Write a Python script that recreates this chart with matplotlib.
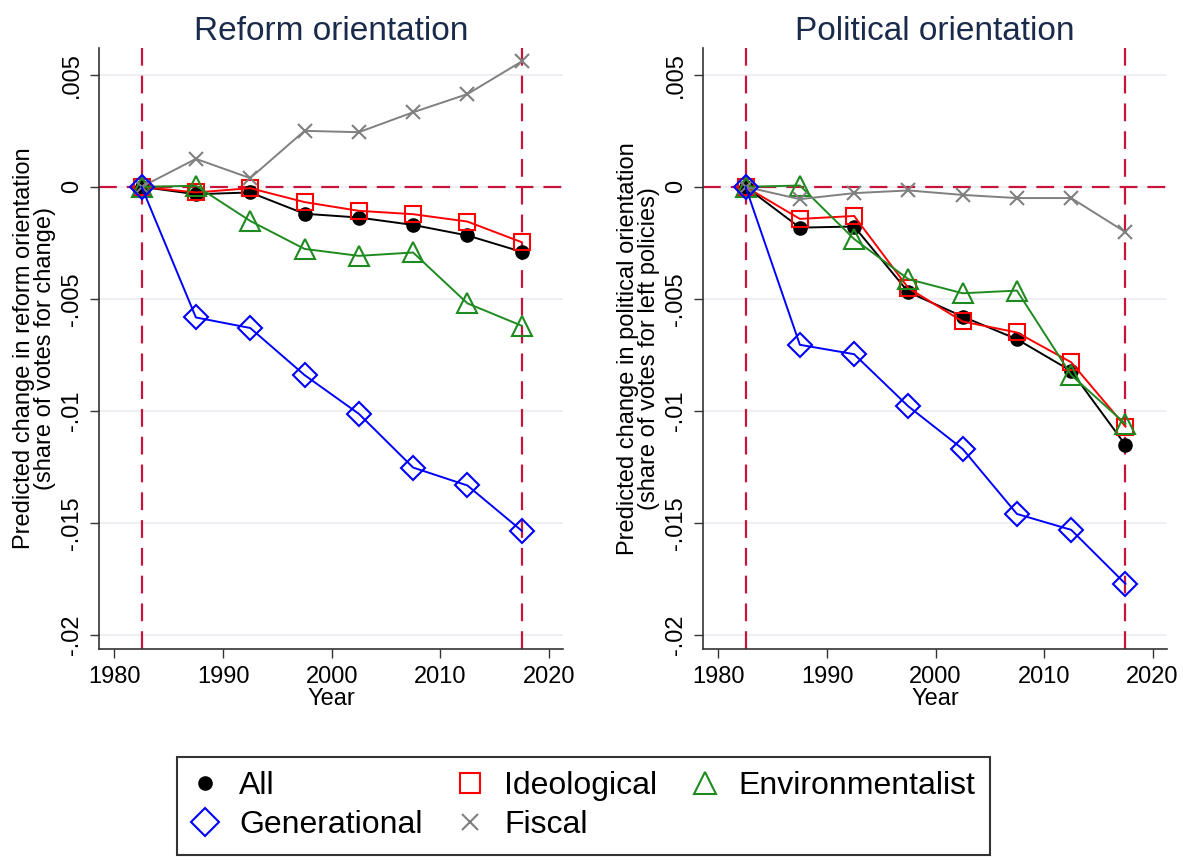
import matplotlib
matplotlib.use("Agg")
import matplotlib.pyplot as plt
from matplotlib.lines import Line2D

plt.rcParams['font.family'] = ['Liberation Sans', 'DejaVu Sans']

years = [1982.5, 1987.5, 1992.5, 1997.5, 2002.5, 2007.5, 2012.5, 2017.5]

# Reform orientation (share of votes for change)
reform_all = [0, -0.00033, -0.00025, -0.0012, -0.00137, -0.0017, -0.00217, -0.0029]
reform_ideological = [0, -0.00025, -0.00006, -0.00068, -0.00107, -0.00122, -0.00155, -0.00247]
reform_environmentalist = [0, 0.00005, -0.00152, -0.00277, -0.00308, -0.00293, -0.0052, -0.0062]
reform_generational = [0, -0.00583, -0.0063, -0.0084, -0.01013, -0.01253, -0.01333, -0.01535]
reform_fiscal = [0, 0.00125, 0.00039, 0.0025, 0.00244, 0.00333, 0.00414, 0.0056]

# Political orientation (share of votes for left policies)
political_all = [0, -0.00182, -0.00177, -0.0047, -0.00579, -0.0068, -0.00822, -0.01152]
political_ideological = [0, -0.00143, -0.0013, -0.00452, -0.00601, -0.0065, -0.00783, -0.0107]
political_environmentalist = [0, 0.00006, -0.00233, -0.00412, -0.00475, -0.00463, -0.0084, -0.01058]
political_generational = [0, -0.00705, -0.00747, -0.0098, -0.0117, -0.0146, -0.01531, -0.01772]
political_fiscal = [0, -0.00055, -0.00028, -0.00016, -0.00036, -0.0005, -0.0005, -0.00202]

yticks = [0.005, 0, -0.005, -0.01, -0.015, -0.02]
ytick_labels = ['.005', '0', '-.005', '-.01', '-.015', '-.02']
xticks = [1980, 1990, 2000, 2010, 2020]

ref_years = [1982.5, 2017.5]

styles = {
    'All': dict(color='black', marker='o', ms=9, mfc='black'),
    'Ideological': dict(color='#ff0000', marker='s', ms=12, mfc='none'),
    'Environmentalist': dict(color='#1f8a1f', marker='^', ms=14, mfc='none'),
    'Generational': dict(color='#0000ff', marker='D', ms=12, mfc='none'),
    'Fiscal': dict(color='#808080', marker='x', ms=9.5, mfc='none'),
}

ref_color = '#c8143c'
grid_color = '#e9eef4'
spine_color = '#333333'


def draw_panel(ax, series, title, ylabel):
    for yt in yticks:
        ax.axhline(yt, color=grid_color, lw=1.2, zorder=0)
    ax.axhline(0, color=ref_color, lw=1.6, dashes=(8, 4.5), zorder=1)
    for ry in ref_years:
        ax.axvline(ry, color=ref_color, lw=1.6, dashes=(8, 4.5), zorder=1)
    for name in ['All', 'Ideological', 'Environmentalist', 'Fiscal', 'Generational']:
        st = styles[name]
        ax.plot(years, series[name], color=st['color'], lw=1.4, marker=st['marker'],
                ms=st['ms'], mfc=st['mfc'], mec=st['color'], mew=1.5, zorder=3)

    ax.set_xlim(1978.6, 2021.3)
    ax.set_ylim(-0.02063, 0.0062)
    ax.set_xticks(xticks)
    ax.set_yticks(yticks)
    ax.set_yticklabels(ytick_labels)
    ax.tick_params(axis='y', labelrotation=90, length=6.5, width=1, pad=5, labelsize=17,
                   color=spine_color)
    ax.tick_params(axis='x', length=6.5, width=1, pad=6, labelsize=17, color=spine_color)
    for lab in ax.get_yticklabels():
        lab.set_verticalalignment('center')
    for s in ['top', 'right']:
        ax.spines[s].set_visible(False)
    for s in ['left', 'bottom']:
        ax.spines[s].set_color(spine_color)
        ax.spines[s].set_linewidth(1.2)

    ax.set_title(title, fontsize=24, color='#1a2a4a', pad=6)
    ax.set_xlabel('Year', fontsize=17, labelpad=0)
    ax.set_ylabel(ylabel, fontsize=17, linespacing=0.95)
    ax.yaxis.set_label_coords(-0.093, 0.5)


fig = plt.figure(figsize=(11.83, 8.61), dpi=100)
ax1 = fig.add_axes([0.0839, 0.2462, 0.3920, 0.6981])
ax2 = fig.add_axes([0.5945, 0.2462, 0.3917, 0.6981])

draw_panel(ax1, {
    'All': reform_all, 'Ideological': reform_ideological,
    'Environmentalist': reform_environmentalist, 'Generational': reform_generational,
    'Fiscal': reform_fiscal,
}, 'Reform orientation',
    'Predicted change in reform orientation\n(share of votes for change)')

draw_panel(ax2, {
    'All': political_all, 'Ideological': political_ideological,
    'Environmentalist': political_environmentalist, 'Generational': political_generational,
    'Fiscal': political_fiscal,
}, 'Political orientation',
    'Predicted change in political orientation\n(share of votes for left policies)')

# legend order filled row-wise like the original: All, Ideological, Environmentalist / Generational, Fiscal
order = ['All', 'Generational', 'Ideological', 'Fiscal', 'Environmentalist']
handles = []
for name in order:
    st = styles[name]
    handles.append(Line2D([], [], ls='none', marker=st['marker'], ms=st['ms'] + 2,
                          mfc=st['mfc'], mec=st['color'], mew=1.5))
handles[0].set_markersize(9)
handles[3].set_markersize(11)
leg = fig.legend(handles, order, ncol=3, loc='upper center', bbox_to_anchor=(0.493, 0.121),
                 fontsize=23, frameon=True, fancybox=False, edgecolor='black',
                 handlelength=0.9, handletextpad=0.6, columnspacing=1.05,
                 labelspacing=0.28, borderpad=0.45, borderaxespad=0)
leg.get_frame().set_linewidth(1.5)

fig.savefig('out.png', dpi=100)
